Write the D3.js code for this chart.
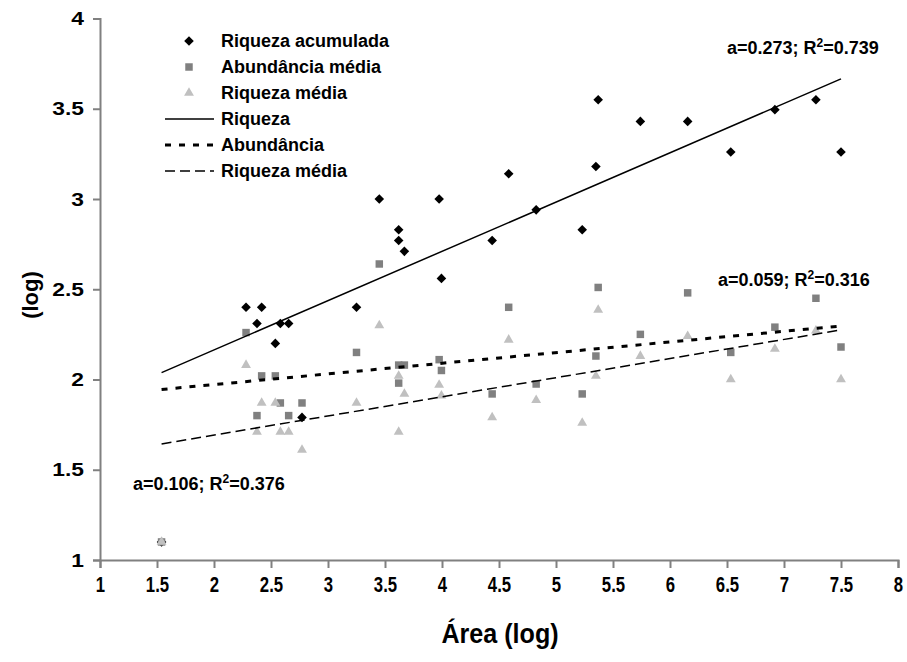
<!DOCTYPE html>
<html>
<head>
<meta charset="utf-8">
<script src="https://cdn.jsdelivr.net/npm/d3@7"></script>
<style>
  body { margin: 0; background: #fff; }
  text { font-family: Arial, "Liberation Sans", sans-serif; font-weight: bold; fill: #000; }
</style>
</head>
<body>
<svg id="chart" width="907" height="662"></svg>
<script>
// Área (log) of each site and the three measured responses (log)
const area = [1.54, 2.281, 2.377, 2.418, 2.538, 2.582, 2.655, 2.772, 3.25, 3.45, 3.62, 3.62, 3.67,
              3.975, 3.995, 4.44, 4.585, 4.826, 5.23, 5.35, 5.37, 5.74, 6.155, 6.533, 6.92, 7.28, 7.50];
const riquezaAcumulada = [1.10, 2.40, 2.31, 2.40, 2.20, 2.31, 2.31, 1.79, 2.40, 3.00, 2.83, 2.77, 2.71,
              3.00, 2.56, 2.77, 3.14, 2.94, 2.83, 3.18, 3.55, 3.43, 3.43, 3.26, 3.495, 3.55, 3.26];
const abundanciaMedia = [1.10, 2.26, 1.80, 2.02, 2.02, 1.87, 1.80, 1.87, 2.15, 2.64, 2.08, 1.98, 2.08,
              2.11, 2.05, 1.92, 2.40, 1.975, 1.92, 2.13, 2.51, 2.25, 2.48, 2.15, 2.29, 2.45, 2.18];
const riquezaMedia = [1.10, 2.08, 1.71, 1.87, 1.87, 1.71, 1.71, 1.61, 1.87, 2.30, 2.02, 1.71, 1.92,
              1.97, 1.91, 1.79, 2.22, 1.886, 1.76, 2.02, 2.385, 2.13, 2.24, 2.00, 2.17, 2.27, 2.00];

// Axis ticks
const xTicks = [1, 1.5, 2, 2.5, 3, 3.5, 4, 4.5, 5, 5.5, 6, 6.5, 7, 7.5, 8];
const yTicks = [1, 1.5, 2, 2.5, 3, 3.5, 4];

// Linear trends: slope a, intercept and R²
const trendNames = ["Riqueza", "Abundância", "Riqueza média"];
const trendSlope = [0.273, 0.059, 0.106];
const trendIntercept = [1.618, 1.854, 1.480];
const trendR2 = ["0.739", "0.316", "0.376"];

const seriesNames = ["Riqueza acumulada", "Abundância média", "Riqueza média"];
const seriesValues = [riquezaAcumulada, abundanciaMedia, riquezaMedia];

const svg = d3.select("#chart");
const x = d3.scaleLinear().domain([1, 8]).range([100, 898]);
const y = d3.scaleLinear().domain([1, 4]).range([560, 18.5]);

// marker shapes per series
const markers = [
  { path: d3.symbol().type(d3.symbolSquare).size(46)(), rotate: 45, fill: "#000" },
  { path: d3.symbol().type(d3.symbolSquare).size(56)(), rotate: 0, fill: "#808080" },
  { path: d3.symbol().type(d3.symbolTriangle).size(42)(), rotate: 0, fill: "#c0c0c0" }
];
const lineStyles = [
  { width: 1.5, dash: null },
  { width: 3, dash: "6,8" },
  { width: 1.5, dash: "10,5" }
];

// stretch or condense a text node horizontally to a factor of its natural width
function widthFactor(sel, f) {
  sel.each(function () {
    const w = this.getComputedTextLength();
    d3.select(this).attr("textLength", w * f).attr("lengthAdjust", "spacingAndGlyphs");
  });
}

// axes
const axisColor = "#808080";
const yAxis = svg.append("g").attr("transform", "translate(100,0)")
  .call(d3.axisLeft(y).tickValues(yTicks).tickSize(7).tickPadding(9).tickFormat(d => String(d)));
const xAxis = svg.append("g").attr("transform", "translate(0,560)")
  .call(d3.axisBottom(x).tickValues(xTicks).tickSize(8).tickPadding(8).tickFormat(d => String(d)));
[yAxis, xAxis].forEach(g => {
  g.selectAll("path, line").attr("stroke", axisColor).attr("stroke-width", 2);
});
yAxis.selectAll("text").style("font-size", "19px").call(widthFactor, 1.2);
xAxis.selectAll("text").style("font-size", "22px").call(widthFactor, 0.76);

// axis titles
svg.append("text").attr("x", 500).attr("y", 643).attr("text-anchor", "middle")
  .style("font-size", "27px").text("Área (log)").call(widthFactor, 0.93);
svg.append("text").attr("transform", "translate(38,295) rotate(-90)").attr("text-anchor", "middle")
  .style("font-size", "22px").text("(log)");

// points
seriesValues.forEach((vals, s) => {
  svg.append("g").selectAll("path").data(vals).join("path")
    .attr("d", markers[s].path)
    .attr("fill", markers[s].fill)
    .attr("transform", (v, i) => `translate(${x(area[i])},${y(v)}) rotate(${markers[s].rotate})`);
});

// trend lines over the sampled range of area
const xMin = d3.min(area), xMax = d3.max(area);
trendSlope.forEach((a, k) => {
  const b = trendIntercept[k];
  svg.append("line")
    .attr("x1", x(xMin)).attr("y1", y(a * xMin + b))
    .attr("x2", x(xMax)).attr("y2", y(a * xMax + b))
    .attr("stroke", "#000").attr("stroke-width", lineStyles[k].width)
    .attr("stroke-dasharray", lineStyles[k].dash);
});

// equation labels
const eqPos = [[727, 54], [718, 286], [133, 490]];
trendSlope.forEach((a, k) => {
  const t = svg.append("text").attr("x", eqPos[k][0]).attr("y", eqPos[k][1]).style("font-size", "18px");
  t.append("tspan").text(`a=${a.toFixed(3)}; R`);
  t.append("tspan").attr("dy", -7).style("font-size", "12px").text("2");
  t.append("tspan").attr("dy", 7).text(`=${trendR2[k]}`);
});

// legend
const legend = svg.append("g").attr("transform", "translate(0,41)");
const rowH = 26;
seriesNames.forEach((name, s) => {
  const row = legend.append("g").attr("transform", `translate(0,${s * rowH})`);
  row.append("path").attr("d", markers[s].path).attr("fill", markers[s].fill)
    .attr("transform", `translate(189,0) rotate(${markers[s].rotate})`);
  row.append("text").attr("x", 221).attr("dy", "0.35em").style("font-size", "18px").text(name);
});
trendNames.forEach((name, k) => {
  const row = legend.append("g").attr("transform", `translate(0,${(k + 3) * rowH})`);
  row.append("line").attr("x1", 165).attr("x2", 214)
    .attr("stroke", "#000").attr("stroke-width", lineStyles[k].width)
    .attr("stroke-dasharray", lineStyles[k].dash);
  row.append("text").attr("x", 221).attr("dy", "0.35em").style("font-size", "18px").text(name);
});
</script>
</body>
</html>
